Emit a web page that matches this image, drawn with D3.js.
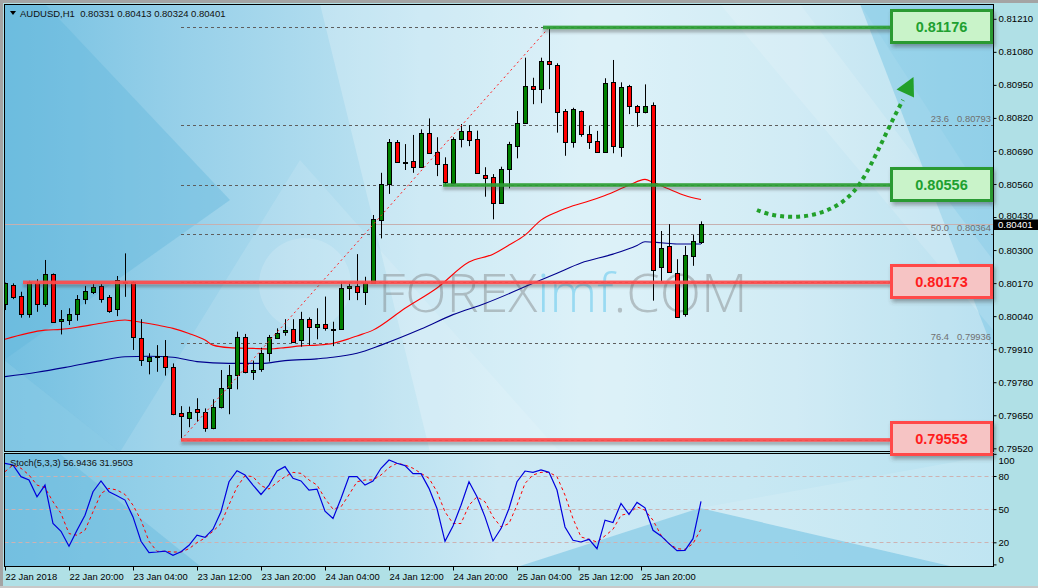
<!DOCTYPE html>
<html><head><meta charset="utf-8">
<script src="https://cdn.jsdelivr.net/npm/d3@7"></script>
<style>html,body{margin:0;padding:0;background:#b0e0e6;overflow:hidden}svg{display:block}</style>
</head><body><svg id="c" width="1038" height="588"></svg>
<script>
// ---------------- DATA ----------------
const symbol = "AUDUSD,H1";
const opens  = [0.80087,0.80163,0.80119,0.80047,0.80172,0.80087,0.80206,0.80020,0.80025,0.80047,0.80106,0.80136,0.80159,0.80114,0.80067,0.80176,0.80175,0.79953,0.79863,0.79884,0.79884,0.79839,0.79658,0.79638,0.79673,0.79664,0.79599,0.79681,0.79756,0.79808,0.79959,0.79819,0.79831,0.79894,0.79955,0.79976,0.79988,0.79946,0.80028,0.79998,0.80008,0.79990,0.79988,0.80149,0.80159,0.80136,0.80172,0.80418,0.80559,0.80724,0.80648,0.80650,0.80628,0.80759,0.80685,0.80637,0.80565,0.80736,0.80768,0.80736,0.80595,0.80586,0.80486,0.80618,0.80711,0.80799,0.80946,0.80933,0.81044,0.81028,0.80847,0.80726,0.80847,0.80756,0.80729,0.80685,0.80960,0.80707,0.80946,0.80868,0.80842,0.80871,0.80232,0.80316,0.80209,0.80047,0.80278,0.80331];
const highs  = [0.80172,0.80169,0.80136,0.80179,0.80185,0.80261,0.80208,0.80064,0.80071,0.80123,0.80159,0.80166,0.80166,0.80123,0.80198,0.80287,0.80178,0.80028,0.79894,0.79926,0.79946,0.79854,0.79686,0.79684,0.79717,0.79677,0.79713,0.79828,0.79848,0.79979,0.79970,0.79865,0.79916,0.79966,0.79992,0.80028,0.80028,0.80057,0.80035,0.80071,0.80117,0.80018,0.80175,0.80172,0.80284,0.80195,0.80438,0.80604,0.80737,0.80733,0.80717,0.80753,0.80775,0.80818,0.80744,0.80665,0.80744,0.80796,0.80792,0.80770,0.80626,0.80599,0.80628,0.80726,0.80847,0.81057,0.80978,0.81057,0.81176,0.81035,0.80855,0.80860,0.80849,0.80788,0.80769,0.80976,0.81048,0.80960,0.80950,0.80871,0.80952,0.80881,0.80375,0.80402,0.80264,0.80316,0.80359,0.80413];
const lows   = [0.80064,0.80107,0.80034,0.80034,0.80057,0.80077,0.80014,0.79968,0.80005,0.80022,0.80087,0.80127,0.80093,0.80053,0.80040,0.80116,0.79907,0.79844,0.79811,0.79821,0.79806,0.79650,0.79553,0.79603,0.79625,0.79585,0.79595,0.79677,0.79654,0.79752,0.79815,0.79789,0.79821,0.79861,0.79950,0.79963,0.79935,0.79920,0.79926,0.79949,0.79983,0.79922,0.79986,0.80103,0.80103,0.80084,0.80170,0.80346,0.80521,0.80646,0.80615,0.80604,0.80626,0.80678,0.80591,0.80552,0.80563,0.80704,0.80709,0.80600,0.80510,0.80421,0.80484,0.80543,0.80661,0.80797,0.80874,0.80878,0.80933,0.80762,0.80671,0.80703,0.80746,0.80698,0.80684,0.80683,0.80681,0.80667,0.80835,0.80785,0.80838,0.80101,0.80176,0.80213,0.80036,0.80038,0.80238,0.80324];
const closes = [0.80169,0.80117,0.80047,0.80176,0.80087,0.80206,0.80016,0.80029,0.80048,0.80106,0.80139,0.80153,0.80106,0.80061,0.80182,0.80175,0.79959,0.79867,0.79880,0.79885,0.79839,0.79654,0.79647,0.79664,0.79664,0.79599,0.79681,0.79756,0.79808,0.79959,0.79819,0.79828,0.79894,0.79957,0.79972,0.79985,0.79939,0.80028,0.79998,0.80009,0.79992,0.79989,0.80149,0.80159,0.80136,0.80172,0.80421,0.80559,0.80724,0.80648,0.80647,0.80628,0.80759,0.80683,0.80637,0.80569,0.80736,0.80768,0.80733,0.80602,0.80585,0.80484,0.80618,0.80716,0.80799,0.80946,0.80935,0.81044,0.81031,0.80844,0.80726,0.80854,0.80756,0.80726,0.80685,0.80956,0.80711,0.80940,0.80868,0.80842,0.80868,0.80222,0.80307,0.80215,0.80038,0.80281,0.80337,0.80401];

const maRedBars  = [0,5,7,9,12,15,16,19,21,23,25,26,28,31,33,35,37,39,41,43,44,46,50,54,58,61,63,65,67,69,71,73,75,78,80,81,83,85,87];
const maRedVals  = [0.79949,0.79985,0.79988,0.79996,0.80012,0.80025,0.80021,0.80005,0.79992,0.79972,0.79946,0.79926,0.79916,0.79913,0.79911,0.79916,0.79923,0.79926,0.79933,0.79951,0.79962,0.79985,0.80071,0.80151,0.80253,0.80284,0.80320,0.80359,0.80418,0.80450,0.80474,0.80493,0.80515,0.80555,0.80578,0.80567,0.80540,0.80515,0.80499];
const maBlueBars = [0,4,8,12,15,18,21,24,28,32,35,39,41,44,47,52,56,60,66,69,72,76,79,80,82,84,87];
const maBlueVals = [0.79802,0.79819,0.79841,0.79865,0.79880,0.79882,0.79878,0.79861,0.79854,0.79854,0.79865,0.79872,0.79878,0.79894,0.79926,0.79989,0.80046,0.80090,0.80169,0.80209,0.80249,0.80284,0.80318,0.80333,0.80329,0.80324,0.80324];

const stochK = [91.5,90,79.4,76.4,61.2,71.8,37,30,16.4,30.9,44.5,65.8,75.5,65.8,62.1,58.2,43,20.9,10.6,11.2,12.1,8.2,11.5,17.3,26.4,24.5,31.8,47.6,74.8,84.8,80.9,71.8,63.3,71.8,84.5,88.5,77.9,75.5,67.3,68.2,48.2,41.5,59.7,79.4,79.4,71.8,75.5,87,94.5,91.5,89.4,82.1,82.1,68.8,50.6,20.9,34.8,53.6,74.8,61.2,43,21.2,32.4,50.6,74.8,84.5,83.3,85.5,83.3,67.3,33.9,21.8,20.3,22.7,14.2,40,37.9,55.2,45.2,56.1,51.2,30.9,25.8,18.8,12.4,12.7,23.3,56.9436];
const stochD = [83.9,90,87,80.9,71.8,69.4,56.7,46.1,27.9,26.4,30.9,47.6,64.2,68.8,67.3,63.3,53.6,40,20.9,11.8,11.8,11.2,11.2,14.2,19.7,23.9,30,37,54,70,80.3,79.4,71.2,68.2,74.2,79.4,83.3,82.4,76.4,71.8,59.7,50,52.1,63,74.8,76.4,76.4,80.9,87.6,91.5,90,87,82.4,77.9,65.8,47.6,37,37,53.6,61.2,56.7,43,33.9,37,53.6,73.3,80.9,83.3,83.3,79.4,62.7,41.5,24.8,22.7,20.3,25.8,31.8,44.5,46.1,52.1,49.1,40,26.4,18.8,14.2,13.6,18.8,31.9503];

const priceTicks = [0.81210,0.81080,0.80950,0.80820,0.80690,0.80560,0.80430,0.80300,0.80170,0.80040,0.79910,0.79780,0.79650,0.79520];
const stochTicks = [100,80,50,20,0];
const stochLevels = [80,50,20];
const timeTickBars   = [0,8,16,24,32,40,48,56,64,71.7,79.5];
const timeTickLabels = ["22 Jan 2018","22 Jan 20:00","23 Jan 04:00","23 Jan 12:00","23 Jan 20:00","24 Jan 04:00","24 Jan 12:00","24 Jan 20:00","25 Jan 04:00","25 Jan 12:00","25 Jan 20:00"];

const fibStartBar = 22, fibEndBar = 68;
const fibLevels = [0.81176,0.80793,0.80556,0.80364,0.80173,0.79936,0.79553];
const fibNames  = ["0.0","23.6","38.2","50.0","61.8","76.4","100.0"];
const fibLabelShown = [false,true,false,true,false,true,false]; // others sit under the boxes

const levelPrices    = [0.81176,0.80556,0.80173,0.79553];
const levelStartBars = [67.25,54.75,2.25,22];
const levelKinds     = ["res","res","sup","sup"];

// ---------------- LAYOUT ----------------
const svg = d3.select("#c");
const L = 4.5, R = 993.5, MT = 4.5, MB = 451.5, ST = 453.5, SB = 566.5;
const x  = d3.scaleLinear().domain([0, 87]).range([5, 701]);
const y  = d3.scaleLinear().domain([0.79520, 0.81210]).range([448.3, 18.8]);
const ys = d3.scaleLinear().domain([0, 100]).range([564.4, 453.9]);
const FONT = "'Liberation Sans', Arial, sans-serif";

const defs = svg.append("defs");
function grad(id, stops){
  const g = defs.append("linearGradient").attr("id", id).attr("x1",0).attr("x2",1).attr("y1",0).attr("y2",0);
  stops.forEach(([o,c]) => g.append("stop").attr("offset", o).attr("stop-color", c));
}
grad("bgMain", [[0,"#74c0e1"],[0.18,"#97d0e9"],[0.42,"#c0e4f2"],[0.6,"#d4eef7"],[0.8,"#c4e6f2"],[1,"#a6d8ec"]]);
grad("bgStoch",[[0,"#7fc5e3"],[0.3,"#a9dbee"],[0.5,"#cde9f4"],[0.75,"#c8e8f3"],[1,"#b8e2f1"]]);
const sh = defs.append("filter").attr("id","shLine").attr("filterUnits","userSpaceOnUse").attr("x",0).attr("y",0).attr("width",1038).attr("height",588);
sh.append("feDropShadow").attr("dx",0).attr("dy",3).attr("stdDeviation",1.6).attr("flood-color","#404040").attr("flood-opacity",0.45);
const sb = defs.append("filter").attr("id","shBox").attr("x","-10%").attr("y","-20%").attr("width","125%").attr("height","150%");
sb.append("feDropShadow").attr("dx",2).attr("dy",3).attr("stdDeviation",2).attr("flood-color","#404040").attr("flood-opacity",0.45);
defs.append("clipPath").attr("id","clipMain").append("rect").attr("x",L).attr("y",MT).attr("width",R-L).attr("height",MB-MT);
defs.append("clipPath").attr("id","clipStoch").append("rect").attr("x",L).attr("y",ST).attr("width",R-L).attr("height",SB-ST);

// frame
svg.append("rect").attr("width",1038).attr("height",588).attr("fill","#b0e0e6");
svg.append("rect").attr("x",0).attr("y",0).attr("width",1038).attr("height",3).attr("fill","#a4a4a4");
svg.append("rect").attr("x",0).attr("y",0).attr("width",3).attr("height",588).attr("fill","#a4a4a4");
svg.append("rect").attr("x",0).attr("y",586).attr("width",1038).attr("height",2).attr("fill","#c8c8c8");

// main background
const gm = svg.append("g").attr("clip-path","url(#clipMain)");
gm.append("rect").attr("x",L).attr("y",MT).attr("width",R-L).attr("height",MB-MT).attr("fill","url(#bgMain)");
const polyM = [
  [[[4,4],[45,4],[230,200],[4,360]], "#62b6dc", 0.4],
  [[[4,360],[120,452],[4,452]], "#8ccbe6", 0.5],
  [[[320,4],[860,4],[993,210],[993,452],[430,452]], "#ffffff", 0.22],
  [[[120,452],[300,160],[560,452]], "#ffffff", 0.12],
  [[[860,4],[993,4],[993,350]], "#7fc8e5", 0.55],
  [[[720,4],[800,4],[993,260],[993,330]], "#ffffff", 0.14]
];
polyM.forEach(([pts,c,o]) => gm.append("polygon").attr("points", pts.map(p=>p.join(",")).join(" ")).attr("fill",c).attr("opacity",o));
gm.append("circle").attr("cx",305).attr("cy",284).attr("r",46).attr("fill","#ffffff").attr("opacity",0.16);

// watermark
const wm = gm.append("text").attr("x",378).attr("y",312).attr("font-family","'Open Sans', 'Lato', sans-serif")
  .attr("font-weight",300).attr("font-size",54).attr("letter-spacing",0);
wm.append("tspan").text("FOREX").attr("fill","#6e6e6e").attr("fill-opacity",0.38);
wm.append("tspan").text("imf").attr("fill","#6ccbee").attr("fill-opacity",0.6);
wm.append("tspan").text(".COM").attr("fill","#6e6e6e").attr("fill-opacity",0.38);

// fib dashed levels
gm.selectAll("line.fib").data(fibLevels).join("line")
  .attr("x1", x(fibStartBar)).attr("x2", R).attr("y1", d=>Math.round(y(d))+0.5).attr("y2", d=>Math.round(y(d))+0.5)
  .attr("stroke","#5e5e5e").attr("stroke-width",1).attr("stroke-dasharray","3,3");
const shownFib = fibLevels.map((v,i)=>({v, n:fibNames[i], s:fibLabelShown[i]})).filter(d=>d.s);
gm.selectAll("text.fibn").data(shownFib).join("text")
  .attr("x", 949).attr("y", d=>y(d.v)-2.5).attr("text-anchor","end").attr("font-family",FONT).attr("font-size",9.4)
  .attr("fill","#707070").text(d=>d.n);
gm.selectAll("text.fibv").data(shownFib).join("text")
  .attr("x", 991).attr("y", d=>y(d.v)-2.5).attr("text-anchor","end").attr("font-family",FONT).attr("font-size",9.4)
  .attr("fill","#707070").text(d=>d.v.toFixed(5));

// current price line
const last = closes[closes.length-1];
gm.append("line").attr("x1",L).attr("x2",R).attr("y1",Math.round(y(last))+0.5).attr("y2",Math.round(y(last))+0.5)
  .attr("stroke","#c6b0b0").attr("stroke-width",1);

// moving averages
const lineGen = d3.line().x(d=>x(d[0])).y(d=>y(d[1])).curve(d3.curveMonotoneX);
gm.append("path").attr("d", lineGen(maRedBars.map((b,i)=>[b,maRedVals[i]]))).attr("fill","none").attr("stroke","#ff0000").attr("stroke-width",1.1);
gm.append("path").attr("d", lineGen(maBlueBars.map((b,i)=>[b,maBlueVals[i]]))).attr("fill","none").attr("stroke","#00008e").attr("stroke-width",1.1);

// candles
const idx = d3.range(opens.length);
const cg = gm.append("g");
cg.selectAll("line.wick").data(idx).join("line")
  .attr("x1", i=>Math.round(x(i))+0.5).attr("x2", i=>Math.round(x(i))+0.5)
  .attr("y1", i=>y(highs[i])).attr("y2", i=>y(lows[i])).attr("stroke","#000").attr("stroke-width",1);
cg.selectAll("rect.body").data(idx).join("rect")
  .attr("x", i=>Math.round(x(i))-1.5).attr("width",4)
  .attr("y", i=>Math.round(y(Math.max(opens[i],closes[i])))+0.5)
  .attr("height", i=>Math.max(1, Math.round(y(Math.min(opens[i],closes[i]))) - Math.round(y(Math.max(opens[i],closes[i])))))
  .attr("fill", i=>closes[i] >= opens[i] ? "#008000" : "#ff0000")
  .attr("stroke","#000").attr("stroke-width",1);

// fib diagonal
gm.append("line").attr("x1",x(fibStartBar)).attr("y1",y(lows[fibStartBar])).attr("x2",x(fibEndBar)).attr("y2",y(highs[fibEndBar]))
  .attr("stroke","#ff2020").attr("stroke-width",1).attr("stroke-dasharray","2,3");

// thick level lines
const boxLeft = 891.5, boxW = 100, boxH = 32;
const lg = gm.append("g").attr("filter","url(#shLine)");
levelPrices.forEach((p,i) => {
  const res = levelKinds[i]==="res";
  lg.append("rect").attr("x", x(levelStartBars[i])).attr("width", boxLeft - x(levelStartBars[i]))
    .attr("y", y(p)-1.8).attr("height", 3.6)
    .attr("fill", res ? "#2c9e34" : "#ff4a4a").attr("fill-opacity",0.92);
});

// stoch panel
const gs = svg.append("g").attr("clip-path","url(#clipStoch)");
gs.append("rect").attr("x",L).attr("y",ST).attr("width",R-L).attr("height",SB-ST).attr("fill","url(#bgStoch)");
const polyS = [
  [[[4,454],[60,454],[200,566],[4,566]], "#62b6dc", 0.4],
  [[[520,566],[700,508],[950,566]], "#7fc8e5", 0.65],
  [[[700,508],[993,455],[993,566],[950,566]], "#ffffff", 0.12]
];
polyS.forEach(([pts,c,o]) => gs.append("polygon").attr("points", pts.map(p=>p.join(",")).join(" ")).attr("fill",c).attr("opacity",o));
gs.selectAll("line.sl").data(stochLevels).join("line")
  .attr("x1",L).attr("x2",R).attr("y1",d=>Math.round(ys(d))+0.5).attr("y2",d=>Math.round(ys(d))+0.5)
  .attr("stroke","#cdb2b2").attr("stroke-width",1).attr("stroke-dasharray","4,3");
const sLine = d3.line().x((d,i)=>x(i)).y(d=>ys(d));
gs.append("path").attr("d", sLine(stochD)).attr("fill","none").attr("stroke","#ff0000").attr("stroke-width",1).attr("stroke-dasharray","3,3");
gs.append("path").attr("d", sLine(stochK)).attr("fill","none").attr("stroke","#0000dd").attr("stroke-width",1.2);
gs.append("text").attr("x",10).attr("y",466).attr("font-family",FONT).attr("font-size",9.3).attr("fill","#111")
  .text(`Stoch(5,3,3) ${stochK[stochK.length-1].toFixed(4)} ${stochD[stochD.length-1].toFixed(4)}`);

// borders
svg.append("rect").attr("x",L).attr("y",MT).attr("width",R-L).attr("height",MB-MT).attr("fill","none").attr("stroke","#000");
svg.append("rect").attr("x",L).attr("y",ST).attr("width",R-L).attr("height",SB-ST).attr("fill","none").attr("stroke","#000");

// header
svg.append("path").attr("d","M10,11 L16,11 L13,15 Z").attr("fill","#000");
svg.append("text").attr("x",20).attr("y",16.5).attr("font-family",FONT).attr("font-size",9.5).attr("fill","#111")
  .attr("xml:space","preserve")
  .text(`${symbol}  ${opens[87].toFixed(5)} ${highs[87].toFixed(5)} ${lows[87].toFixed(5)} ${closes[87].toFixed(5)}`);

// right price axis
const ax = svg.append("g").attr("transform",`translate(${R},0)`)
  .call(d3.axisRight(y).tickValues(priceTicks).tickSize(3).tickPadding(2).tickFormat(d=>d.toFixed(5)));
ax.select(".domain").remove();
ax.selectAll("text").attr("font-family",FONT).attr("font-size",9.6).attr("fill","#000")
  .attr("dy", d => Math.abs(d - closes[closes.length-1]) < 0.0004 ? "0.18em" : "0.32em");
ax.selectAll("line").attr("stroke","#000");
// current price tag
svg.append("rect").attr("x",994).attr("y",Math.round(y(last))-4.5).attr("width",44).attr("height",10.5).attr("fill","#000");
svg.append("text").attr("x",998).attr("y",y(last)+4).attr("font-family",FONT).attr("font-size",9.6).attr("fill","#fff").text(last.toFixed(5));

// stoch axis
const axs = svg.append("g").attr("transform",`translate(${R},0)`)
  .call(d3.axisRight(ys).tickValues(stochTicks).tickSize(3).tickPadding(2));
axs.select(".domain").remove();
axs.selectAll("line").attr("stroke","#000");
axs.selectAll("text").attr("font-family",FONT).attr("font-size",9.6).attr("fill","#000")
  .attr("dy", d => d===100 ? "1.0em" : d===0 ? "-0.25em" : "0.32em");

// time axis
const axt = svg.append("g").attr("transform",`translate(0,${SB})`)
  .call(d3.axisBottom(x).tickValues(timeTickBars).tickSize(4).tickFormat((d,i)=>timeTickLabels[i]));
axt.select(".domain").remove();
axt.selectAll("line").attr("stroke","#000");
axt.selectAll("text").attr("font-family",FONT).attr("font-size",9.4).attr("fill","#000").attr("text-anchor","start").attr("dx",0).attr("y",7).attr("dy","0.71em");

// boxes
const boxTops = [10, 168, 265, 422];
levelPrices.forEach((p,i) => {
  const res = levelKinds[i] === "res";
  const g = svg.append("g");
  g.append("rect").attr("x",boxLeft).attr("y",boxTops[i]+0.5).attr("width",boxW).attr("height",boxH)
    .attr("fill", res ? "#c9f3c9" : "#f6c4c4").attr("stroke", res ? "#2a9a30" : "#ff4848").attr("stroke-width",3)
    .attr("filter","url(#shBox)");
  g.append("text").attr("x",boxLeft+boxW/2).attr("y",boxTops[i]+boxH/2+5.5).attr("text-anchor","middle")
    .attr("font-family",FONT).attr("font-weight","bold").attr("font-size",14.5)
    .attr("fill", res ? "#20a030" : "#ff1c1c").text(p.toFixed(5));
});

// projected move arrow
svg.append("path").attr("d","M757,210 C785,222 830,220 855,190 C870,172 884,135 903,100")
  .attr("fill","none").attr("stroke","#22a02a").attr("stroke-width",4).attr("stroke-dasharray","4,4");
svg.append("path").attr("d","M913.5,77 L896.5,89.5 L914,97.5 Z").attr("fill","#22a02a");
</script></body></html>
